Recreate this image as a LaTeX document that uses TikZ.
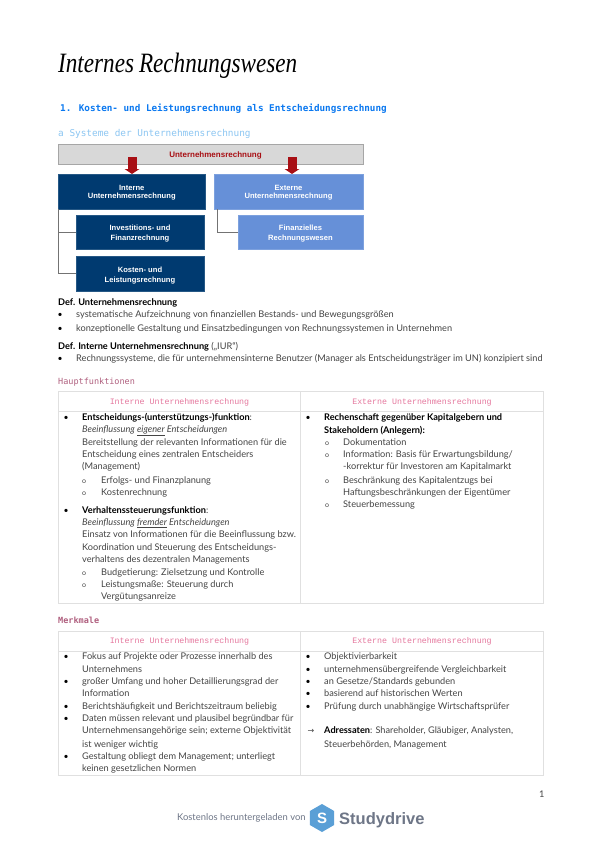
\documentclass[tikz,border=0pt]{standalone}
\usepackage{fontspec}
\usepackage{graphicx}
\setmainfont{Lato}
\newfontfamily\boxfont{Liberation Sans}
\newfontfamily\headmono{DejaVu Sans Mono}
\newfontfamily\thinmono{Liberation Mono}
\newfontfamily\titlefont{Liberation Serif}
\newfontfamily\arrowfont{DejaVu Sans}
\usetikzlibrary{arrows.meta,shapes.geometric}
\definecolor{navy}{HTML}{003A70}
\definecolor{midblue}{HTML}{6690D8}
\definecolor{barfill}{HTML}{D8D8D8}
\definecolor{barline}{HTML}{A6A6A6}
\definecolor{redarrow}{HTML}{A80F14}
\definecolor{txt}{HTML}{444444}
\definecolor{rule}{HTML}{E0E0E0}
\definecolor{headA}{HTML}{0A78F0}
\definecolor{headB}{HTML}{8CC6F2}
\definecolor{headC}{HTML}{B0607F}
\definecolor{headD}{HTML}{E5789E}
\definecolor{footgray}{HTML}{6E7687}
\definecolor{logoblue}{HTML}{5A9FD6}
\tikzset{
 tx/.style={anchor=base west,inner sep=0pt,text=txt,font=\fontsize{9.2}{10}\selectfont},
 bul/.style={anchor=base,inner sep=0pt,text=black,font=\fontsize{8.6}{10}\selectfont},
 sub/.style={anchor=base,inner sep=0pt,text=txt,font=\fontsize{7}{10}\selectfont},
 thead/.style={anchor=center,inner sep=0pt,text=headD,font=\thinmono\fontsize{8.3}{10}\selectfont},
 bluebox/.style={rectangle,inner sep=0pt,text=white,align=center},
 darkbox/.style={bluebox,fill=navy,draw=navy!85!white,line width=.4pt},
 lightbox/.style={bluebox,fill=midblue,draw=midblue!85!white,line width=.4pt},
 bracket/.style={draw=black!55,line width=1pt},
 redarr/.style={redarrow,line width=9pt,-{Triangle[width=14.5pt,length=5pt]},shorten >=-.5pt},
 grid/.style={draw=rule,line width=1pt},
}
\newcommand{\boxtxt}[1]{\boxfont\bfseries\fontsize{#1}{#1}\selectfont}
\begin{document}
\begin{tikzpicture}[x=1pt,y=-1pt]
\useasboundingbox[fill=white] (0,0) rectangle (600,849);
% title
\node[anchor=base west,inner sep=0pt,text=black] (title) at (58,72)
 {\scalebox{.827}[1]{\titlefont\itshape\fontsize{28}{28}\selectfont Internes\hspace{6pt}Rechnungswesen}};
\node[anchor=base west,inner sep=0pt,text=headA,font=\headmono\bfseries\fontsize{9.3}{11}\selectfont] (h1) at (60,111)
 {1. Kosten- und Leistungsrechnung als Entscheidungsrechnung};
\node[anchor=base west,inner sep=0pt,text=headB,font=\headmono\fontsize{9.4}{11}\selectfont] (h2) at (58,136)
 {a Systeme der Unternehmensrechnung};
% diagram
\node[rectangle,inner sep=0pt,fill=barfill,draw=barline,line width=.8pt,minimum width=305pt,minimum height=20pt] (bar) at (210.5,154) {};
\node[inner sep=0pt,text=redarrow,font=\boxtxt{8}] (bartxt) at (215.5,155.5) {Unternehmensrechnung};
\node[darkbox,minimum width=147.5pt,minimum height=35pt,font=\boxtxt{7.6}] (int) at (131.75,191.5) {\rule{0pt}{8pt}Interne\\Unternehmensrechnung};
\node[lightbox,minimum width=149pt,minimum height=35pt,font=\boxtxt{7.6}] (ext) at (288.5,191.5) {\rule{0pt}{8pt}Externe\\Unternehmensrechnung};
\node[darkbox,minimum width=128pt,minimum height=34pt,font=\boxfont\bfseries\fontsize{7.6}{10}\selectfont] (inv) at (140,232) {\rule{0pt}{9pt}Investitions- und\\Finanzrechnung};
\node[darkbox,minimum width=128pt,minimum height=35pt,font=\boxfont\bfseries\fontsize{7.6}{10}\selectfont] (kos) at (140,273.5) {\rule{0pt}{9pt}Kosten- und\\Leistungsrechnung};
\node[lightbox,minimum width=125pt,minimum height=34pt,font=\boxfont\bfseries\fontsize{7.6}{10}\selectfont] (fin) at (300.5,232) {\rule{0pt}{9pt}Finanzielles\\Rechnungswesen};
\coordinate (a1) at (132,157);
\coordinate (a1e) at (132,173.5);
\coordinate (a2) at (292,157);
\coordinate (a2e) at (292,173.5);
\draw[redarr] (a1) -- (a1e);
\draw[redarr] (a2) -- (a2e);
\draw[bracket] (int.south west) ++(1,0) coordinate (bk) |- (inv.west);
\draw[bracket] (bk) |- (kos.west);
\draw[bracket] (ext.south west) ++(4,0) |- (fin.west);
% definitions
\node[tx,text=black] (d1) at (58,305.5) {\bfseries Def. Unternehmensrechnung};
\node[bul] (b1) at (60,317.5) {•};
\node[tx] (t1) at (76,317.5) {systematische Aufzeichnung von finanziellen Bestands- und Bewegungsgrößen};
\node[bul] (b2) at (60,331.5) {•};
\node[tx] (t2) at (76,331.5) {konzeptionelle Gestaltung und Einsatzbedingungen von Rechnungssystemen in Unternehmen};
\node[tx] (d2) at (58,349.5) {{\color{black}\bfseries Def. Interne Unternehmensrechnung} („IUR“)};
\node[bul] (b3) at (60,361.5) {•};
\node[tx] (t3) at (76,361.5) {Rechnungssysteme, die für unternehmensinterne Benutzer (Manager als Entscheidungsträger im UN) konzipiert sind};
% Hauptfunktionen
\node[anchor=base west,inner sep=0pt,text=headC,font=\headmono\fontsize{8.5}{10}\selectfont] (hf) at (58,384) {Hauptfunktionen};
\draw[grid] (58,391) rectangle (543,603);
\draw[grid] (58,411) -- (543,411);
\draw[grid] (300.5,391) -- (300.5,603);
\node[thead] (th1) at (179.5,402) {Interne Unternehmensrechnung};
\node[thead] (th2) at (422,402) {Externe Unternehmensrechnung};
% left cell
\node[bul] (hb1) at (66,420.3) {•};
\node[tx] (h01) at (82,420.3) {{\color{black}\bfseries Entscheidungs-(unterstützungs-)funktion}:};
\node[tx] (h02) at (82,432.3) {\itshape Beeinflussung \underline{eigener} Entscheidungen};
\node[tx] (h03) at (82,445.7) {Bereitstellung der relevanten Informationen für die};
\node[tx] (h04) at (82,457.7) {Entscheidung eines zentralen Entscheiders};
\node[tx] (h05) at (82,469.7) {(Management)};
\node[sub] (hs1) at (84,483) {o};
\node[tx] (h06) at (101,483) {Erfolgs- und Finanzplanung};
\node[sub] (hs2) at (84,495) {o};
\node[tx] (h07) at (101,495) {Kostenrechnung};
\node[bul] (hb2) at (66,513) {•};
\node[tx] (h08) at (82,513) {{\color{black}\bfseries Verhaltenssteuerungsfunktion}:};
\node[tx] (h09) at (82,525) {\itshape Beeinflussung \underline{fremder} Entscheidungen};
\node[tx] (h10) at (82,537.7) {Einsatz von Informationen für die Beeinflussung bzw.};
\node[tx] (h11) at (82,550.3) {Koordination und Steuerung des Entscheidungs-};
\node[tx] (h12) at (82,562.3) {verhaltens des dezentralen Managements};
\node[sub] (hs3) at (84,575) {o};
\node[tx] (h13) at (101,575) {Budgetierung: Zielsetzung und Kontrolle};
\node[sub] (hs4) at (84,587) {o};
\node[tx] (h14) at (101,587) {Leistungsmaße: Steuerung durch};
\node[tx] (h15) at (101,599.7) {Vergütungsanreize};
% right cell
\node[bul] (hb3) at (308,420.3) {•};
\node[tx] (r01) at (324,420.3) {{\color{black}\bfseries Rechenschaft gegenüber Kapitalgebern und}};
\node[tx] (r02) at (324,433) {{\color{black}\bfseries Stakeholdern (Anlegern):}};
\node[sub] (rs1) at (327,445.7) {o};
\node[tx] (r03) at (343,445.7) {Dokumentation};
\node[sub] (rs2) at (327,457.7) {o};
\node[tx] (r04) at (343,457.7) {Information: Basis für Erwartungsbildung/};
\node[tx] (r05) at (343,469.7) {-korrektur für Investoren am Kapitalmarkt};
\node[sub] (rs3) at (327,483) {o};
\node[tx] (r06) at (343,483) {Beschränkung des Kapitalentzugs bei};
\node[tx] (r07) at (343,495) {Haftungsbeschränkungen der Eigentümer};
\node[sub] (rs4) at (327,507) {o};
\node[tx] (r08) at (343,507) {Steuerbemessung};
% Merkmale
\node[anchor=base west,inner sep=0pt,text=headC,font=\headmono\bfseries\fontsize{8.5}{10}\selectfont] (mk) at (58,623) {Merkmale};
\draw[grid] (58,631) rectangle (543,775);
\draw[grid] (58,651) -- (543,651);
\draw[grid] (300.5,631) -- (300.5,775);
\node[thead] (mh1) at (179.5,641) {Interne Unternehmensrechnung};
\node[thead] (mh2) at (422,641) {Externe Unternehmensrechnung};
\node[bul] (mb1) at (66,659) {•};
\node[tx] (m01) at (82,659) {Fokus auf Projekte oder Prozesse innerhalb des};
\node[tx] (m02) at (82,672.3) {Unternehmens};
\node[bul] (mb2) at (66,684.3) {•};
\node[tx] (m03) at (82,684.3) {großer Umfang und hoher Detaillierungsgrad der};
\node[tx] (m04) at (82,696.3) {Information};
\node[bul] (mb3) at (66,709.7) {•};
\node[tx] (m05) at (82,709.7) {Berichtshäufigkeit und Berichtszeitraum beliebig};
\node[bul] (mb4) at (66,721.7) {•};
\node[tx] (m06) at (82,721.7) {Daten müssen relevant und plausibel begründbar für};
\node[tx] (m07) at (82,733.7) {Unternehmensangehörige sein; externe Objektivität};
\node[tx] (m08) at (82,747) {ist weniger wichtig};
\node[bul] (mb5) at (66,759) {•};
\node[tx] (m09) at (82,759) {Gestaltung obliegt dem Management; unterliegt};
\node[tx] (m10) at (82,771) {keinen gesetzlichen Normen};
\node[bul] (nb1) at (308,659) {•};
\node[tx] (n01) at (324,659) {Objektivierbarkeit};
\node[bul] (nb2) at (308,672.3) {•};
\node[tx] (n02) at (324,672.3) {unternehmensübergreifende Vergleichbarkeit};
\node[bul] (nb3) at (308,684.3) {•};
\node[tx] (n03) at (324,684.3) {an Gesetze/Standards gebunden};
\node[bul] (nb4) at (308,696.3) {•};
\node[tx] (n04) at (324,696.3) {basierend auf historischen Werten};
\node[bul] (nb5) at (308,709.7) {•};
\node[tx] (n05) at (324,709.7) {Prüfung durch unabhängige Wirtschaftsprüfer};
\node[bul,font=\arrowfont\fontsize{8}{10}\selectfont,text=txt] (nar) at (311,733.7) {→};
\node[tx] (n06) at (324,733.7) {{\color{black}\bfseries Adressaten}: Shareholder, Gläubiger, Analysten,};
\node[tx] (n07) at (324,747) {Steuerbehörden, Management};
% footer
\node[tx] (pg) at (539,797) {1};
\node[anchor=base west,inner sep=0pt,text=footgray,font=\fontsize{9.4}{10}\selectfont] (ft) at (177,820) {Kostenlos heruntergeladen von};
\node[regular polygon,regular polygon sides=6,shape border rotate=30,fill=logoblue,inner sep=0pt,minimum size=28pt] (logo) at (322,818) {};
\node[inner sep=0pt,text=white,font=\boxfont\bfseries\fontsize{15}{15}\selectfont] (logoS) at (322,818) {S};
\node[anchor=base west,inner sep=0pt,text=footgray,font=\boxfont\bfseries\fontsize{16.5}{17}\selectfont] (sd) at (339,824) {Studydrive};
\end{tikzpicture}
\end{document}
